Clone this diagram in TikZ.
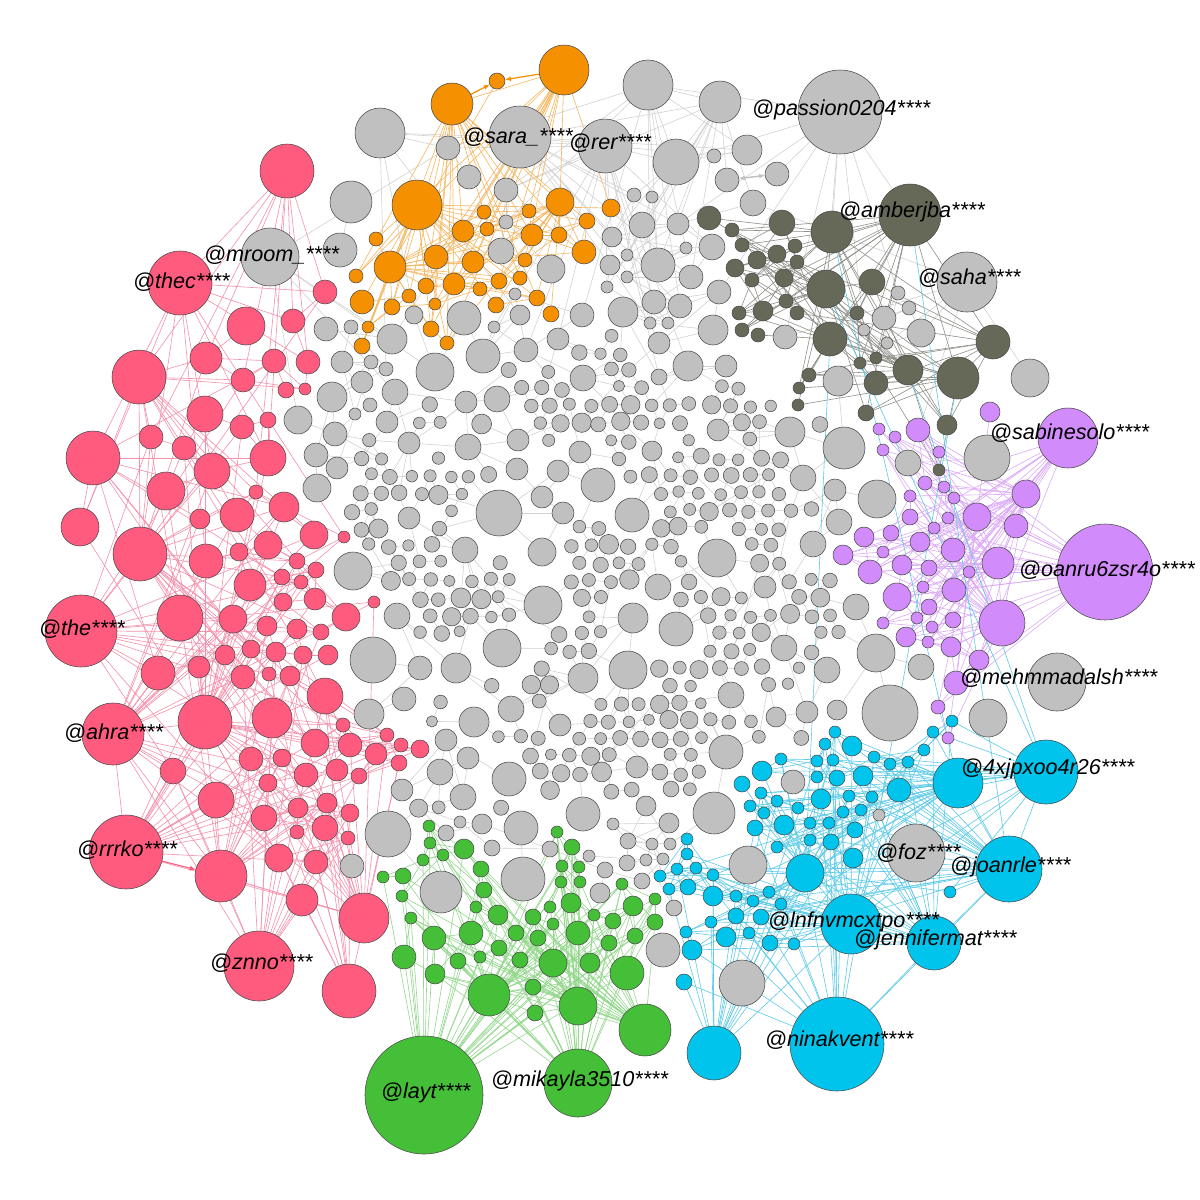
\documentclass[tikz,border=0pt]{standalone}
\usepackage{fontspec}
\setmainfont{Liberation Sans}
\usetikzlibrary{arrows.meta}
\definecolor{cgray}{HTML}{C0C0C0}
\definecolor{cpink}{HTML}{FF5B7E}
\definecolor{corange}{HTML}{F59100}
\definecolor{cgreen}{HTML}{45BF38}
\definecolor{ccyan}{HTML}{00C4EB}
\definecolor{cpurple}{HTML}{D28BFA}
\definecolor{cdark}{HTML}{666858}
\definecolor{ndline}{HTML}{4A4A4A}
\definecolor{egray}{HTML}{D2D2D2}
\definecolor{edark}{HTML}{8E8F88}
\definecolor{epink}{HTML}{F58FAA}
\definecolor{eorange}{HTML}{F6B65C}
\definecolor{egreen}{HTML}{93D88C}
\definecolor{ecyan}{HTML}{5CCBE8}
\definecolor{epurple}{HTML}{DCA9F7}
\pgfdeclarelayer{bottom}
\pgfdeclarelayer{background}
\pgfdeclarelayer{top}
\pgfsetlayers{bottom,background,main,top}
\tikzset{
  nd/.style={circle,inner sep=0pt,outer sep=0pt,draw=ndline,line width=0.55pt},
  gyn/.style={nd,fill=cgray},
  pkn/.style={nd,fill=cpink},
  orn/.style={nd,fill=corange},
  gnn/.style={nd,fill=cgreen},
  cyn/.style={nd,fill=ccyan},
  pun/.style={nd,fill=cpurple},
  dkn/.style={nd,fill=cdark},
  gye/.style={draw=egray,line width=0.6pt},
  dke/.style={draw=edark,line width=0.6pt},
  pke/.style={draw=epink,line width=0.6pt},
  ore/.style={draw=eorange,line width=0.6pt},
  gne/.style={draw=egreen,line width=0.6pt},
  cye/.style={draw=ecyan,line width=0.6pt},
  pue/.style={draw=epurple,line width=0.6pt},
  lbl/.style={anchor=west,inner sep=0pt,font=\itshape\fontsize{21.6}{24}\selectfont},
}
% grid parameters
\def\Gx{300}\def\Gy{318}\def\Gs{20}\def\Gh{17.5}\def\Gni{29}\def\Gnj{29}
\newcommand\markocc[3]{%
  \pgfmathtruncatemacro\mjmin{max(0,floor((#2-#3-18-\Gy)/\Gh))}%
  \pgfmathtruncatemacro\mjmax{min(\Gnj,ceil((#2+#3+18-\Gy)/\Gh))}%
  \ifnum\mjmin>\mjmax\relax\else
    \foreach \jj in {\mjmin,...,\mjmax}{%
      \pgfmathtruncatemacro\jjp{mod(\jj,2)}%
      \pgfmathsetmacro\goff{\jjp*\Gs/2}%
      \pgfmathtruncatemacro\imin{max(0,floor((#1-#3-18-\Gx-\goff)/\Gs))}%
      \pgfmathtruncatemacro\imax{min(\Gni,ceil((#1+#3+18-\Gx-\goff)/\Gs))}%
      \ifnum\imin>\imax\relax\else
        \foreach \ii in {\imin,...,\imax}{%
          \pgfmathtruncatemacro\hit{veclen(\Gx+\ii*\Gs+\goff-#1,\Gy+\jj*\Gh-#2)<(#3+11.5)}%
          \ifnum\hit=1 \expandafter\gdef\csname occ@\ii @\jj\endcsname{1}\fi
        }%
      \fi
    }%
  \fi
}
\newcommand\placecluster[3]{%
  \foreach \x/\y/\rr [count=\kk] in #3 {%
    \node[#2,minimum size=2*\rr] (#1\kk) at (\x,\y) {};%
    \expandafter\xdef\csname X@#1\kk\endcsname{\x}%
    \expandafter\xdef\csname Y@#1\kk\endcsname{\y}%
    \expandafter\xdef\csname R@#1\kk\endcsname{\rr}%
    \xdef\lastN{\kk}%
    \markocc{\x}{\y}{\rr}%
  }%
  \expandafter\xdef\csname N@#1\endcsname{\lastN}%
}
\newcommand\clusteredges[6]{%
  \edef\NN{\csname N@#1\endcsname}%
  \pgfmathtruncatemacro\Hs{#2+1}%
  \foreach \kk in {\Hs,...,\NN}{%
    \edef\xa{\csname X@#1\kk\endcsname}\edef\ya{\csname Y@#1\kk\endcsname}%
    \foreach \hh in {1,...,#2}{%
      \edef\xb{\csname X@#1\hh\endcsname}\edef\yb{\csname Y@#1\hh\endcsname}%
      \pgfmathtruncatemacro\okk{(veclen((\xa-\xb)/10,(\ya-\yb)/10)<#3/10)*(rnd<#4)}%
      \ifnum\okk=1 \draw[#5] (#1\kk) -- (#1\hh);\fi
    }%
    \foreach \mm in {1,2,3,4,5}{%
      \pgfmathtruncatemacro\tq{\kk+\mm}%
      \ifnum\tq>\NN\relax\else
        \edef\xb{\csname X@#1\tq\endcsname}\edef\yb{\csname Y@#1\tq\endcsname}%
        \pgfmathtruncatemacro\okk{(veclen((\xa-\xb)/10,(\ya-\yb)/10)<#6/10)*(rnd<0.5)}%
        \ifnum\okk=1 \draw[#5] (#1\kk) -- (#1\tq);\fi
      \fi
    }%
  }%
  \foreach \kk in {2,...,#2}{%
    \pgfmathtruncatemacro\km{\kk-1}%
    \edef\xa{\csname X@#1\kk\endcsname}\edef\ya{\csname Y@#1\kk\endcsname}%
    \foreach \hh in {1,...,\km}{%
      \edef\xb{\csname X@#1\hh\endcsname}\edef\yb{\csname Y@#1\hh\endcsname}%
      \pgfmathtruncatemacro\okk{(veclen((\xa-\xb)/10,(\ya-\yb)/10)<#3/10)*(rnd<0.4)}%
      \ifnum\okk=1 \draw[#5] (#1\kk) -- (#1\hh);\fi
    }%
  }%
}
\newcommand\graygrid{%
  \edef\NN{\csname N@gr\endcsname}%
  \foreach \kk in {1,...,\NN}{%
    \edef\xa{\csname X@gr\kk\endcsname}\edef\ya{\csname Y@gr\kk\endcsname}\edef\ra{\csname R@gr\kk\endcsname}%
    \pgfmathtruncatemacro\jc{round((\ya-\Gy)/\Gh)}%
    \ifnum\jc>-4 \ifnum\jc<34
      \foreach \qa in {-3,...,3}{%
        \pgfmathtruncatemacro\tj{\jc+\qa}%
        \pgfmathtruncatemacro\tjp{mod(abs(\tj),2)}%
        \pgfmathtruncatemacro\ic{round((\xa-\Gx-\tjp*\Gs/2)/\Gs)}%
        \foreach \qb in {-3,...,3}{%
          \pgfmathtruncatemacro\ti{\ic+\qb}%
          \ifcsname ex@\ti @\tj\endcsname
            \pgfmathtruncatemacro\okk{(veclen(\Gx+\ti*\Gs+\tjp*\Gs/2-\xa,\Gy+\tj*\Gh-\ya)<(\ra+40))*(rnd<0.22)}%
            \ifnum\okk=1 \draw[gye] (gr\kk) -- (g-\ti-\tj);\fi
          \fi
        }%
      }%
    \fi\fi
  }%
}
% ---------------- node lists (x/y/r in px) ----------------
\def\grlist{840/112/42, 520/137/31, 605/146/27, 380/133/25, 648/85/25, 720/102/21, 270/257/29, 967/282/30,
676/162/23, 747/150/15, 714/156/7, 753/203/13, 634/195/7, 652/197/6, 642/225/13, 678/224/11, 612/237/10, 627/255/6, 658/265/17, 686/248/6, 712/247/13, 691/277/12, 610/265/10, 627/277/6, 607/287/6, 654/302/12, 680/306/12, 650/323/6, 668/323/6, 719/292/12, 623/312/15, 713/330/15, 659/343/11, 688/366/15, 726/366/11, 659/377/8, 785/337/12,
448/148/12, 469/177/12, 506/190/12, 351/202/21, 340/250/17, 506/222/7, 501/251/13, 551/269/14, 464/318/17, 414/315/9, 326/329/12, 392/339/15, 483/356/17, 435/372/19, 515/294/6, 520/315/10, 494/327/6, 526/350/12, 582/315/12, 558/339/11, 583/378/13,
351/327/7, 342/362/11, 371/362/7, 362/382/11, 386/369/7, 370/405/7, 355/414/6, 332/397/15, 298/420/14, 335/434/12, 316/455/12, 337/468/11, 317/488/14, 353/571/19,
395/392/13, 497/399/13, 466/402/11, 387/422/11, 468/447/13, 409/443/11, 518/440/11, 580/452/11, 517/469/11, 558/471/11, 598/485/17, 499/513/23, 542/497/11, 563/513/11, 409/518/11, 465/550/13, 542/552/14,
838/381/15, 790/432/15, 844/448/21, 877/499/19, 718/430/11, 652/451/10, 803/478/13, 835/490/11, 632/515/17, 839/522/13, 813/544/13, 717/558/19, 658/587/13,
373/660/23, 397/616/13, 502/648/19, 543/605/19, 456/668/15, 420/668/12, 369/714/15, 404/699/12, 474/722/15, 511/709/13, 583/678/15, 628/670/19, 633/618/15, 676/629/17, 731/695/13, 440/772/13, 463/797/13, 468/758/11, 446/740/11, 402/790/11, 560/725/11, 637/767/11, 509/779/17,
827/670/13, 807/712/11, 784/648/13, 765/587/11, 776/717/10, 837/710/10, 856/607/13, 876/653/19, 890/713/28, 921/667/13, 988/718/19, 1057/682/29, 987/458/23, 1030/378/19, 908/463/13,
898/293/7, 909/308/7, 884/318/12, 921/333/14, 864/330/6, 887/343/6,
388/834/23, 441/892/21, 523/879/22, 521/828/17, 583/814/17, 352/866/12, 492/848/8, 446/833/8, 482/824/10, 460/822/6, 550/849/8, 600/893/10, 605/870/8, 589/856/6, 642/881/8, 627/863/8, 646/860/6, 663/859/6, 674/908/8, 628/841/8, 652/844/6, 670/844/6, 613/824/6, 646/806/10, 669/823/10, 714/813/21, 726/752/17, 793/782/12, 879/815/6, 748/865/19, 742/983/23, 663/950/17, 916/853/29}
\def\pklist{81/631/36, 113/734/31, 126/852/37, 180/283/32, 259/966/35, 287/171/27, 139/377/27, 93/458/27, 140/554/27, 205/722/27, 349/991/27, 364/918/25, 221/876/26,
246/326/19, 293/321/12, 325/292/12, 206/358/16, 274/361/12, 308/362/12, 243/380/12, 286/390/8, 305/389/6,
151/437/12, 184/448/12, 205/414/18, 242/427/12, 268/420/8, 268/458/18, 212/471/18, 166/491/19, 80/527/19, 200/519/10, 237/515/17, 256/492/7, 284/507/15, 314/535/14, 344/537/6, 268/545/14, 239/552/9, 206/561/17, 250/585/16, 297/561/8, 316/570/8, 282/577/8, 301/582/7, 283/602/9, 315/599/11, 374/602/6, 346/617/14, 321/632/8, 297/629/10, 267/626/10, 233/619/14, 180/618/23, 158/673/17, 199/667/11, 225/655/10, 251/649/9, 276/652/10, 303/655/9, 328/655/10, 243/677/12, 269/674/7, 290/676/10, 325/696/18, 272/718/20, 315/743/14, 343/725/7, 350/745/12, 387/735/7, 376/754/11, 401/745/7, 420/749/9, 399/763/8, 359/776/8, 337/770/11, 306/775/12, 282/758/9, 251/759/12, 173/771/13, 216/800/18, 268/783/9, 264/818/13, 298/808/10, 327/803/10, 350/813/9, 325/828/13, 297/832/7, 348/838/7, 279/858/14, 316/862/12, 302/900/16}
\def\orlist{564/70/25, 452/104/21, 417/205/25, 390/267/16, 560/202/14,
497/81/8, 484/212/7, 529/211/7, 587/221/8, 463/231/11, 487/229/7, 532/235/11, 559/235/8, 584/252/12, 436/257/12, 473/262/11, 525/260/7, 376/239/7, 356/276/7, 426/286/8, 454/284/11, 499/281/8, 520/278/7, 480/289/7, 537/298/8, 362/302/12, 392/307/8, 409/296/7, 435/304/6, 496/305/8, 551/314/8, 368/327/6, 431/329/8, 362/346/8, 447/343/7, 611/208/9}
\def\gnlist{424/1095/59, 578/1083/34, 645/1030/26, 489/995/21, 578/1006/19,
429/826/6, 430/843/6, 423/860/6, 443/855/6, 464/849/10, 383/877/6, 403/876/8, 402/896/6, 481/869/8, 484/890/8, 411/918/6, 476/907/6, 434/938/12, 471/933/12, 498/915/10, 404/957/12, 435/974/10, 458/961/8, 480/957/6, 499/948/8, 516/933/8, 520/960/8, 533/917/8, 538/938/8, 553/924/6, 553/963/14, 533/987/8, 535/1013/8, 550/907/6, 557/832/6, 572/847/8, 562/866/6, 579/867/6, 561/882/6, 580/882/6, 571/903/10, 578/933/12, 590/963/10, 594/915/6, 613/921/8, 609/943/8, 622/884/6, 633/906/10, 635/936/8, 655/899/6, 655/922/8, 627/973/17}
\def\cylist{837/1044/47, 1009/869/33, 851/924/30, 934/943/27, 1046/772/32, 958/783/25, 714/1053/27, 805/873/19,
835/732/6, 852/746/10, 825/744/6, 817/761/6, 833/760/6, 781/759/6, 762/771/10, 742/784/8, 817/777/6, 837/778/8, 863/776/10, 874/757/6, 890/764/6, 908/762/6, 924/750/6, 933/732/6, 952/721/6, 899/790/12, 761/793/6, 777/801/6, 750/806/6, 764/813/6, 798/808/6, 821/799/10, 849/796/6, 872/797/6, 861/810/6, 843/812/6, 755/828/8, 784/825/10, 810/823/6, 829/823/6, 855/830/8, 777/847/6, 810/840/6, 831/842/8, 853/858/10, 687/839/6, 687/854/6, 660/876/6, 677/869/6, 696/868/6, 713/875/6, 669/889/6, 688/887/8, 713/896/10, 736/896/6, 753/901/6, 769/892/6, 781/904/6, 950/892/6, 692/950/10, 686/932/6, 726/937/10, 749/933/6, 770/943/8, 794/944/6, 711/922/6, 736/916/8, 761/917/8, 684/982/8}
\def\pulist{1105/572/48, 1068/438/30, 1002/623/23, 1026/494/14, 998/563/16, 977/517/14,
990/412/10, 918/430/12, 879/429/6, 895/437/6, 883/450/6, 939/452/6, 925/483/7, 944/487/6, 910/496/6, 954/498/6, 948/518/6, 934/528/6, 910/517/8, 891/533/8, 864/537/10, 920/542/10, 883/552/6, 953/550/12, 843/555/10, 870/572/12, 902/565/10, 929/568/8, 969/572/6, 954/590/12, 923/587/6, 897/597/14, 929/607/8, 883/623/6, 917/618/6, 932/627/6, 953/620/8, 906/637/10, 928/642/6, 951/647/10, 979/660/10, 956/683/12, 938/707/7, 948/738/6, 1016/526/12}
\def\dklist{910/215/31, 832/232/21, 826/289/19, 830/339/17, 958/378/21, 993/342/17, 908/370/15,
872/282/13, 876/383/12, 857/313/7, 876/358/6, 860/363/6, 809/375/7, 799/388/6, 709/218/12, 732/230/7, 742/245/7, 782/223/13, 795/246/7, 777/254/9, 757/260/9, 797/262/7, 735/268/9, 752/280/7, 784/278/9, 786/301/7, 763/311/10, 797/313/7, 739/313/7, 742/330/7, 758/335/7, 798/405/6, 866/413/8, 947/425/10, 939/470/6}
\pgfmathsetseed{4217}
\begin{document}
\begin{tikzpicture}[x=1pt,y=-1pt]
\useasboundingbox (0,0) rectangle (1200,1200);
\begin{pgfonlayer}{bottom}
\fill[white] (0,0) rectangle (1200,1200);
\end{pgfonlayer}
% explicit nodes
\placecluster{gr}{gyn}{\grlist}
\placecluster{pk}{pkn}{\pklist}
\placecluster{or}{orn}{\orlist}
\placecluster{gn}{gnn}{\gnlist}
\placecluster{cy}{cyn}{\cylist}
\placecluster{pu}{pun}{\pulist}
\placecluster{dk}{dkn}{\dklist}
\node[gyn,minimum size=24] (ga1) at (727,180) {};
\node[gyn,minimum size=24] (ga2) at (777,174) {};
% procedural gray core
\foreach \cj in {0,...,\Gnj}{%
  \pgfmathtruncatemacro\cjp{mod(\cj,2)}%
  \foreach \ci in {0,...,\Gni}{%
    \pgfmathsetmacro\cx{\Gx+\ci*\Gs+\cjp*\Gs/2}%
    \pgfmathsetmacro\cy{\Gy+\cj*\Gh}%
    \pgfmathtruncatemacro\inside{(((\cx-582)/282)^4+((\cy-585)/268)^4<1)*(\cx>342)*(\cx<848)*(\cy>326)*(\cy<812)*(1-(\cx>735)*(\cy>762))*(1-(\cx>745)*(\cy<400))}%
    \ifcsname occ@\ci @\cj\endcsname\def\inside{0}\fi
    \ifnum\inside=1
      \pgfmathsetmacro\jx{\cx+4*rnd-2}%
      \pgfmathsetmacro\jy{\cy+4*rnd-2}%
      \pgfmathsetmacro\grr{rnd<0.12 ? 8.5+1.5*rnd : 5.5+2.6*rnd}%
      \node[gyn,minimum size=2*\grr] (g-\ci-\cj) at (\jx,\jy) {};%
      \expandafter\gdef\csname ex@\ci @\cj\endcsname{1}%
    \fi
  }%
}
% edges
\begin{pgfonlayer}{background}
\foreach \cj in {0,...,\Gnj}{%
  \pgfmathtruncatemacro\cjp{mod(\cj,2)}%
  \pgfmathtruncatemacro\nyj{\cj+1}%
  \foreach \ci in {0,...,\Gni}{%
    \ifcsname ex@\ci @\cj\endcsname
      \pgfmathtruncatemacro\nxi{\ci+1}%
      \pgfmathtruncatemacro\ka{\ci-1+\cjp}%
      \pgfmathtruncatemacro\kb{\ci+\cjp}%
      \ifcsname ex@\nxi @\cj\endcsname \pgfmathtruncatemacro\okk{rnd<0.5}\ifnum\okk=1 \draw[gye] (g-\ci-\cj) -- (g-\nxi-\cj);\fi\fi
      \ifcsname ex@\ka @\nyj\endcsname \pgfmathtruncatemacro\okk{rnd<0.45}\ifnum\okk=1 \draw[gye] (g-\ci-\cj) -- (g-\ka-\nyj);\fi\fi
      \ifcsname ex@\kb @\nyj\endcsname \pgfmathtruncatemacro\okk{rnd<0.45}\ifnum\okk=1 \draw[gye] (g-\ci-\cj) -- (g-\kb-\nyj);\fi\fi
      \pgfmathtruncatemacro\lxa{\ci+round(6*rnd-3)}%
      \pgfmathtruncatemacro\lxb{\cj+2+round(2*rnd)}%
      \ifcsname ex@\lxa @\lxb\endcsname \pgfmathtruncatemacro\okk{rnd<0.3}\ifnum\okk=1 \draw[gye] (g-\ci-\cj) -- (g-\lxa-\lxb);\fi\fi
    \fi
  }%
}
\graygrid
\clusteredges{gr}{8}{240}{0.3}{gye}{80}
\clusteredges{dk}{7}{230}{0.45}{dke}{60}
\clusteredges{pk}{13}{330}{0.32}{pke}{75}
\clusteredges{or}{5}{300}{0.5}{ore}{60}
\clusteredges{gn}{5}{300}{0.55}{gne}{60}
\clusteredges{cy}{8}{320}{0.35}{cye}{60}
\clusteredges{pu}{6}{280}{0.45}{pue}{60}
\draw[cye] (dk3) -- (cy5);
\draw[cye] (dk4) -- (cy8);
\draw[cye] (dk1) -- (cy2);
\draw[cye] (dk2) -- (cy6);
\draw[cye] (dk7) -- (cy5);
\draw[cye] (dk5) -- (cy1);
\draw[gye] (gr1) -- (dk1);
\draw[gye] (gr1) -- (dk2);
\draw[gye] (gr1) -- (dk3);
\draw[gye] (gr1) -- (ga2);
\draw[gye] (gr6) -- (ga1);
\draw[draw=corange,line width=1.2pt,-{Latex[length=6pt,width=5pt]}] (or2) -- (or6);
\draw[draw=corange,line width=1.2pt,-{Latex[length=6pt,width=5pt]}] (or1) -- (or6);
\draw[draw=cpink,line width=1pt,-{Latex[length=6pt,width=5pt]}] (pk3) -- (pk13);
\draw[draw=cgray,line width=1.4pt,{Latex[length=6pt,width=5pt]}-{Latex[length=6pt,width=5pt]}] (ga1) -- (ga2);
\end{pgfonlayer}
% labels
\begin{pgfonlayer}{top}
\node[lbl] (l1) at (752,110) {@passion0204****};
\node[lbl] (l2) at (463,137) {@sara\_****};
\node[lbl] (l3) at (569,143) {@rer****};
\node[lbl] (l4) at (204,255) {@mroom\_****};
\node[lbl] (l5) at (133,282) {@thec****};
\node[lbl] (l6) at (839,212) {@amberjba****};
\node[lbl] (l7) at (918,278) {@saha****};
\node[lbl] (l8) at (990,433) {@sabinesolo****};
\node[lbl] (l9) at (1019,570) {@oanru6zsr4o****};
\node[lbl] (l10) at (960,678) {@mehmmadalsh****};
\node[lbl] (l11) at (961,769) {@4xjpxoo4r26****};
\node[lbl] (l12) at (876,853) {@foz****};
\node[lbl] (l13) at (950,867) {@joanrle****};
\node[lbl] (l14) at (768,922) {@lnfnvmcxtpo****};
\node[lbl] (l15) at (854,940) {@jennifermat****};
\node[lbl] (l16) at (765,1040) {@ninakvent****};
\node[lbl] (l17) at (491,1081) {@mikayla3510****};
\node[lbl] (l18) at (381,1093) {@layt****};
\node[lbl] (l19) at (210,963) {@znno****};
\node[lbl] (l20) at (77,850) {@rrrko****};
\node[lbl] (l21) at (64,733) {@ahra****};
\node[lbl] (l22) at (39,629) {@the****};
\end{pgfonlayer}
\end{tikzpicture}
\end{document}
